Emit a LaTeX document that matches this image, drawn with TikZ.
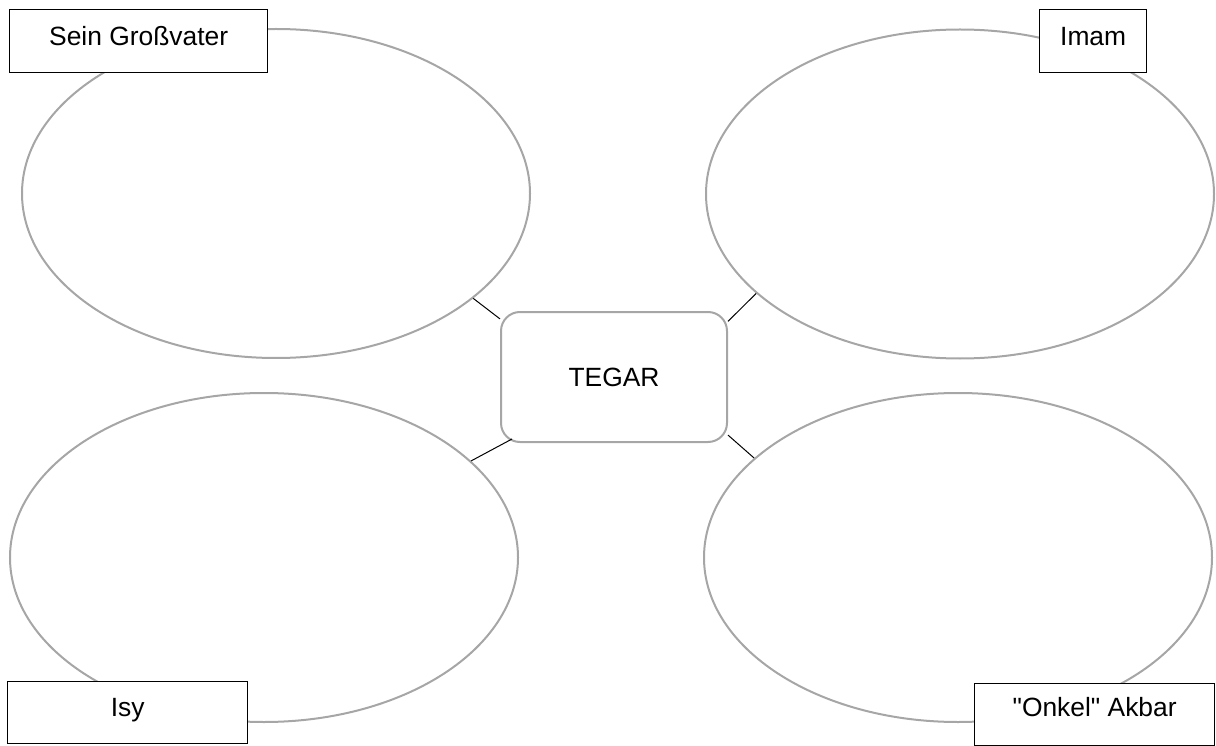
\documentclass[tikz,border=0pt]{standalone}
\usepackage{fontspec}
\setmainfont{Liberation Sans}[Ligatures=TeXOff]
\usetikzlibrary{shapes.geometric}
\definecolor{ringgray}{HTML}{A6A6A6}
\tikzset{
  ring/.style={ellipse, draw=ringgray, line width=2pt, inner sep=0pt,
    minimum width=508pt, minimum height=329pt},
  labelbox/.style={rectangle, draw=black, fill=white, line width=1.3pt, inner sep=0pt,
    text height=20pt, text depth=12pt, font=\fontsize{26.4}{30}\selectfont},
  centerbox/.style={rectangle, rounded corners=19pt, draw=ringgray, fill=white,
    line width=2pt, inner sep=0pt, minimum width=226pt, minimum height=130pt,
    font=\fontsize{26.4}{30}\selectfont},
  link/.style={draw=black, line width=1pt}
}
\begin{document}
\begin{tikzpicture}[x=1pt,y=-1pt]
\useasboundingbox (0,0) rectangle (1216,746);
% ellipses
\node[ring] (tl) at (276,193.5) {};
\node[ring] (tr) at (960,194) {};
\node[ring] (bl) at (264,557.5) {};
\node[ring] (br) at (958,557.5) {};
% centre
\node[centerbox] (tegar) at (614,377) {TEGAR};
% connectors
\draw[link] (tl.-28) -- (tegar.153.4);
\draw[link] (tegar.26.4) -- (tr.206.6);
\draw[link] ([shift={(12,-4)}]tegar.south west) -- (bl.25.3);
\draw[link] (tegar.-27) -- (br.154.6);
% labels
\node[labelbox, anchor=north west, minimum width=258pt, minimum height=63pt] (gross) at (9,9) {Sein Großvater};
\node[labelbox, anchor=north west, minimum width=107pt, minimum height=63pt] (imam) at (1039,9) {Imam};
\node[labelbox, anchor=north west, minimum width=240pt, minimum height=62pt] (isy) at (7,681) {Isy};
\node[labelbox, anchor=north west, minimum width=240pt, minimum height=62pt, text depth=16pt] (akbar) at (974,683) {"Onkel" Akbar};
\end{tikzpicture}
\end{document}
